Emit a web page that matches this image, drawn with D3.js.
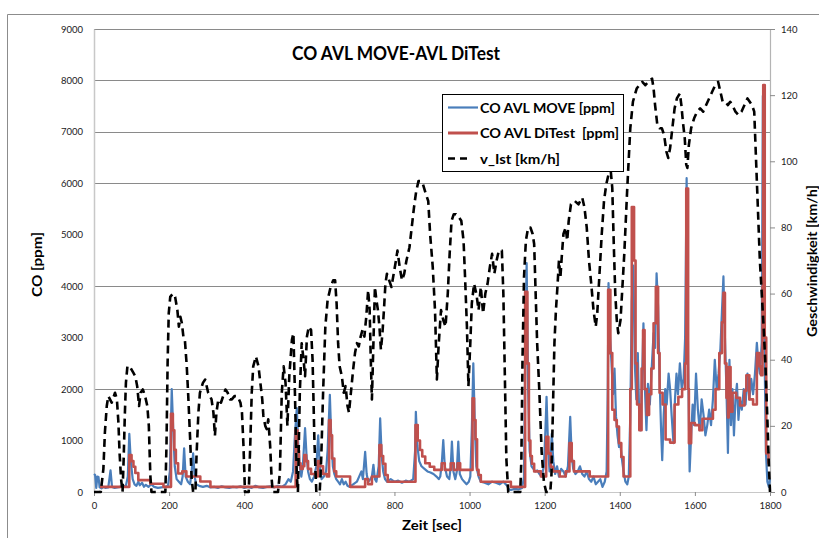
<!DOCTYPE html>
<html>
<head>
<meta charset="utf-8">
<script src="https://cdn.jsdelivr.net/npm/d3@7/dist/d3.min.js"></script>
<style>
  html, body { margin: 0; padding: 0; background: #fff; }
  svg { display: block; }
  text { font-family: Lato, "Open Sans", "DejaVu Sans", sans-serif; }
</style>
</head>
<body>
<svg id="chart" width="819" height="538"></svg>
<script>
// Time axis (s), CO axis (ppm) and speed axis (km/h) ticks
const timeTicks = [0, 200, 400, 600, 800, 1000, 1200, 1400, 1600, 1800];
const coTicks = [0, 1000, 2000, 3000, 4000, 5000, 6000, 7000, 8000, 9000];
const coGrid = [2000, 4000, 6000, 7000, 8000, 9000];
const speedTicks = [0, 20, 40, 60, 80, 100, 120, 140];

// CO AVL MOVE [ppm] : [time s, ppm]
const coMove = [
  [0,350],[3,330],[6,80],[9,300],[12,290],[15,90],[20,70],[25,100],[30,80],[38,90],[44,420],[48,100],
  [55,80],[62,90],[70,100],[78,110],[85,120],[90,300],[94,1130],[98,600],[103,250],[108,150],[113,120],
  [118,200],[122,130],[128,180],[133,100],[138,140],[145,100],[152,150],[160,100],[170,80],[180,90],
  [190,100],[197,120],[202,400],[207,2000],[211,1200],[215,500],[220,250],[226,200],[232,150],[236,300],
  [240,850],[244,300],[250,200],[256,150],[260,400],[264,750],[268,300],[272,150],[280,120],[290,100],
  [300,120],[310,90],[320,100],[330,80],[340,110],[350,90],[360,80],[370,100],[380,90],[390,110],
  [400,80],[410,100],[420,80],[430,120],[440,90],[450,80],[460,100],[470,110],[480,90],[490,120],
  [500,100],[510,150],[518,250],[524,200],[530,400],[535,1100],[540,1630],[544,900],[548,500],[552,300],
  [556,500],[562,1240],[566,700],[570,400],[575,250],[580,200],[586,300],[592,500],[597,1100],[601,500],
  [606,250],[612,300],[618,400],[622,800],[628,1890],[632,1000],[636,500],[640,350],[645,250],[650,200],
  [655,150],[660,250],[665,150],[670,200],[675,120],[680,100],[690,150],[700,200],[706,300],[712,400],
  [716,250],[722,780],[726,350],[730,200],[736,250],[740,300],[744,530],[748,250],[752,200],[758,500],
  [762,1430],[766,700],[770,400],[775,250],[780,200],[790,250],[800,200],[810,220],[820,180],[830,220],
  [840,200],[850,250],[855,800],[857,1560],[861,900],[866,600],[872,500],[880,450],[888,400],[896,380],
  [904,350],[912,300],[918,250],[922,300],[926,550],[930,1010],[934,500],[940,300],[946,250],[950,500],
  [953,980],[957,400],[962,250],[966,400],[970,980],[974,350],[980,250],[986,200],[992,150],[998,200],
  [1002,300],[1006,1200],[1010,2500],[1014,1300],[1018,500],[1024,300],[1030,200],[1040,180],[1050,150],
  [1060,200],[1070,180],[1080,150],[1090,200],[1100,120],[1105,50],[1110,40],[1120,60],[1130,50],
  [1140,80],[1145,300],[1148,2500],[1152,4450],[1156,2000],[1160,800],[1165,500],[1170,450],[1175,400],
  [1180,420],[1186,350],[1192,300],[1198,500],[1202,1200],[1205,1850],[1209,900],[1213,400],[1216,700],
  [1219,1130],[1223,600],[1228,350],[1233,500],[1238,300],[1244,450],[1250,400],[1256,300],[1262,500],
  [1268,1460],[1272,700],[1276,450],[1282,350],[1288,400],[1294,500],[1300,350],[1306,300],[1312,400],
  [1318,250],[1324,200],[1330,300],[1336,150],[1342,200],[1348,250],[1354,100],[1360,200],[1365,400],
  [1368,2000],[1370,4060],[1374,3000],[1378,2500],[1382,1900],[1386,2400],[1390,1460],[1394,1100],
  [1398,875],[1402,900],[1406,620],[1410,400],[1415,200],[1420,150],[1424,300],[1428,1500],[1432,3700],
  [1436,4400],[1440,2500],[1444,1800],[1448,2700],[1452,1400],[1456,1200],[1460,2400],[1463,3280],
  [1467,2000],[1471,1200],[1475,2100],[1480,1700],[1485,2400],[1490,3090],[1494,2800],[1498,4250],
  [1502,3600],[1506,2200],[1510,1200],[1513,620],[1517,1500],[1521,2000],[1525,1700],[1530,2300],
  [1534,2000],[1538,1500],[1543,950],[1547,1800],[1551,2300],[1555,1900],[1560,2500],[1565,2000],
  [1570,2200],[1574,3000],[1578,6100],[1582,2500],[1586,400],[1590,1100],[1594,1700],[1598,1300],
  [1603,2300],[1608,1600],[1613,1200],[1618,1800],[1623,1500],[1628,1100],[1633,1300],[1638,1600],
  [1643,1300],[1648,1800],[1653,2570],[1658,2000],[1663,2300],[1668,2800],[1672,3500],[1676,4190],
  [1680,3000],[1684,2000],[1688,760],[1692,2570],[1696,1300],[1700,2000],[1704,1100],[1708,1800],
  [1712,2100],[1716,1400],[1720,1800],[1725,1600],[1730,2000],[1735,1700],[1740,2300],[1745,1800],
  [1750,2200],[1755,1900],[1760,2300],[1765,2900],[1769,2500],[1773,2300],[1778,2900],[1781,7700],
  [1785,3000],[1789,800],[1793,200],[1797,100],[1800,250]
];

// CO AVL DiTest [ppm] : [time s, ppm], held until the next reading
const coDiTest = [
  [16,100],[94,720],[100,600],[105,490],[110,370],[118,230],[150,160],[185,100],[205,1520],[210,1200],
  [214,820],[218,560],[224,360],[235,400],[246,300],[283,205],[310,100],[537,1200],[542,800],[546,560],
  [550,450],[556,500],[560,720],[565,600],[570,450],[578,350],[590,300],[596,600],[602,500],[610,350],
  [620,300],[626,1400],[630,1100],[634,650],[640,400],[645,300],[682,100],[722,250],[730,150],[740,300],
  [760,913],[765,700],[770,550],[776,330],[782,200],[856,1300],[862,1000],[868,816],[874,690],[882,560],
  [894,490],[906,430],[926,560],[934,430],[950,560],[958,430],[968,560],[975,430],[1008,1820],[1012,1400],
  [1016,1025],[1020,430],[1024,330],[1030,200],[1110,100],[1148,3890],[1154,2500],[1158,1000],[1162,700],
  [1166,550],[1172,400],[1190,300],[1204,1075],[1210,750],[1216,490],[1222,400],[1240,300],[1256,400],
  [1266,950],[1272,600],[1278,400],[1320,300],[1369,3930],[1375,2700],[1380,1600],[1386,1400],[1392,1270],
  [1398,950],[1404,680],[1410,300],[1428,2000],[1432,5540],[1438,4500],[1442,2500],[1446,1700],[1452,1200],
  [1458,2400],[1462,3150],[1466,2000],[1472,1500],[1478,1900],[1484,2400],[1490,3280],[1496,3990],
  [1502,2700],[1506,1930],[1514,1700],[1522,1020],[1534,960],[1546,1700],[1556,1850],[1566,2000],
  [1574,2500],[1577,5900],[1582,2000],[1584,950],[1590,1340],[1600,1300],[1612,1200],[1620,1425],
  [1648,1600],[1655,2000],[1665,2700],[1672,3300],[1676,3870],[1680,2500],[1684,1830],[1688,1450],
  [1690,2430],[1695,1560],[1700,1930],[1710,1830],[1720,1680],[1732,1970],[1737,2270],[1745,1800],
  [1755,1700],[1765,2700],[1772,2440],[1776,2270],[1780,4000],[1782,7910],[1786,3000],[1790,750],
  [1796,560],[1800,560]
];

// v_Ist [km/h] : [time s, km/h]
const speed = [
  [0,0],[18,0],[25,7],[29,18],[34,26],[38,29],[47,27],[56,30],[61,28],[65,21],[68,12],[72,4],[76,0],
  [79,10],[82,23],[85,33],[89,38],[95,38],[100,37],[105,36],[110,35],[115,32],[120,26],[124,30],
  [130,31],[136,29],[142,26],[146,20],[150,5],[153,0],[190,0],[193,14],[196,39],[199,54],[203,59],
  [210,60],[216,59],[222,55],[226,50],[230,53],[234,51],[238,47],[242,46],[247,38],[251,29],[256,16],
  [260,4],[264,0],[270,0],[273,11],[278,24],[282,30],[290,33],[296,34],[304,30],[313,28],[318,24],
  [322,17],[326,24],[331,28],[338,27],[344,29],[350,31],[356,30],[362,28],[367,28],[374,29],[380,29],
  [386,28],[390,27],[394,24],[398,14],[402,0],[412,0],[416,14],[420,30],[424,38],[431,41],[438,38],
  [444,32],[448,28],[451,23],[456,20],[460,19],[464,22],[469,14],[473,4],[476,0],[490,0],[495,6],
  [500,30],[505,38],[510,33],[515,20],[520,35],[527,46],[531,48],[535,30],[540,5],[543,0],[548,30],
  [553,45],[558,40],[562,35],[567,47],[572,50],[578,49],[582,40],[587,15],[592,0],[601,0],[605,10],
  [610,30],[616,50],[622,58],[630,62],[637,64],[642,64],[646,57],[650,45],[654,38],[660,35],[665,30],
  [670,32],[675,26],[679,24],[684,30],[690,37],[695,42],[700,45],[705,44],[710,47],[715,49],[720,47],
  [725,53],[730,61],[734,55],[737,40],[740,28],[744,45],[748,62],[752,58],[756,55],[760,50],[764,43],
  [768,48],[772,55],[776,63],[780,66],[786,64],[792,62],[798,66],[804,70],[808,73],[814,68],[820,64],
  [826,66],[832,70],[840,74],[846,80],[852,86],[858,91],[864,94],[870,94],[876,93],[884,90],[890,88],
  [895,78],[902,68],[908,55],[913,34],[918,45],[924,55],[930,52],[936,50],[942,60],[947,72],[952,82],
  [958,84],[964,84],[972,83],[978,82],[984,76],[988,65],[993,50],[997,32],[1002,45],[1006,57],
  [1012,63],[1018,60],[1024,55],[1030,62],[1036,54],[1042,60],[1048,63],[1054,68],[1060,72],[1066,66],
  [1072,70],[1078,73],[1086,73],[1090,60],[1094,35],[1098,10],[1103,0],[1135,0],[1138,10],[1141,40],
  [1145,65],[1150,76],[1156,80],[1162,80],[1168,78],[1172,75],[1176,60],[1180,45],[1186,30],[1192,12],
  [1198,3],[1204,0],[1215,0],[1218,5],[1222,25],[1226,45],[1230,55],[1234,62],[1238,70],[1242,65],
  [1246,72],[1250,78],[1256,80],[1260,76],[1264,82],[1270,87],[1280,88],[1290,87],[1300,89],[1306,86],
  [1312,80],[1318,70],[1324,63],[1330,55],[1336,50],[1340,54],[1346,66],[1352,78],[1358,88],[1364,93],
  [1370,96],[1376,97],[1380,92],[1384,75],[1388,60],[1392,52],[1396,48],[1402,52],[1406,60],[1412,72],
  [1420,92],[1428,110],[1435,118],[1445,122],[1452,123],[1460,124],[1468,123],[1476,124],[1486,125],
  [1490,122],[1494,117],[1500,111],[1506,110],[1512,110],[1518,108],[1524,103],[1529,101],[1534,104],
  [1540,110],[1546,116],[1552,119],[1560,120.5],[1564,117],[1568,112],[1573,107],[1577,99],[1580,98],
  [1584,105],[1590,110],[1598,113],[1606,115],[1614,116],[1622,115],[1630,117],[1638,119],[1646,121],
  [1654,123],[1662,124],[1668,121],[1674,118],[1680,118],[1688,117],[1694,118],[1700,117],[1708,115],
  [1716,114],[1724,115],[1732,117],[1740,119],[1746,118],[1752,117],[1758,115],[1763,100],[1768,85],
  [1773,70],[1778,60],[1783,50],[1788,38],[1793,22],[1797,8],[1800,0]
];

const svg = d3.select("#chart");

// plot frame
const plot = { left: 94, right: 770, top: 29, bottom: 492 };
const x = d3.scaleLinear().domain([0, 1800]).range([plot.left, plot.right]);
const yCO = d3.scaleLinear().domain([0, 9000]).range([plot.bottom, plot.top]);
const yV = d3.scaleLinear().domain([0, 140]).range([plot.bottom, plot.top]);

// outer chart border
svg.append("path")
  .attr("d", "M7.5,538 L7.5,14.5 L819,14.5")
  .attr("fill", "none").attr("stroke", "#8c8c8c").attr("stroke-width", 1);

// horizontal gridlines
svg.append("g").selectAll("line").data(coGrid).join("line")
  .attr("x1", plot.left).attr("x2", plot.right)
  .attr("y1", d => Math.round(yCO(d)) + 0.5).attr("y2", d => Math.round(yCO(d)) + 0.5)
  .attr("stroke", "#8a8a8a").attr("stroke-width", 1);

// left axis (CO)
const axL = svg.append("g").attr("transform", `translate(${plot.left},0)`)
  .call(d3.axisLeft(yCO).tickValues(coTicks).tickSize(0).tickPadding(11).tickFormat(d3.format("d")));
axL.select(".domain").attr("stroke", "#c8c8c8").attr("stroke-width", 1.5);

// right axis (speed)
const axR = svg.append("g").attr("transform", `translate(${plot.right},0)`)
  .call(d3.axisRight(yV).tickValues(speedTicks).tickSize(5).tickPadding(6).tickFormat(d3.format("d")));
axR.select(".domain").attr("stroke", "#b4b4b4").attr("stroke-width", 1.2);
axR.selectAll(".tick line").attr("stroke", "#8a8a8a");

// bottom axis (time)
const axB = svg.append("g").attr("transform", `translate(0,${plot.bottom})`)
  .call(d3.axisBottom(x).tickValues(timeTicks).tickSize(4).tickPadding(6).tickFormat(d3.format("d")));
axB.select(".domain").attr("stroke", "#c8c8c8").attr("stroke-width", 1);
axB.selectAll(".tick line").attr("stroke", "#8a8a8a");

svg.selectAll(".tick text")
  .attr("font-family", "'DejaVu Sans', sans-serif")
  .attr("font-size", 9.5).attr("fill", "#1a1a1a");

// series
const lineCO = d3.line().x(d => x(d[0])).y(d => yCO(d[1]));
const lineCOstep = d3.line().x(d => x(d[0])).y(d => yCO(d[1])).curve(d3.curveStepAfter);
const lineV = d3.line().x(d => x(d[0])).y(d => yV(d[1]));

svg.append("path").datum(coMove)
  .attr("d", lineCO).attr("fill", "none")
  .attr("stroke", "#4a7ebb").attr("stroke-width", 2.2).attr("stroke-linejoin", "round");

svg.append("path").datum(coDiTest)
  .attr("d", lineCOstep).attr("fill", "none")
  .attr("stroke", "#c0504d").attr("stroke-width", 2.6).attr("stroke-linejoin", "round");

svg.append("path").datum(speed)
  .attr("d", lineV).attr("fill", "none")
  .attr("stroke", "#000").attr("stroke-width", 2.6)
  .attr("stroke-dasharray", "8,5").attr("stroke-linejoin", "round");

// title
svg.append("text").attr("x", 292).attr("y", 60)
  .attr("font-size", 18.5).attr("font-weight", "bold").attr("fill", "#000")
  .attr("textLength", 208).attr("lengthAdjust", "spacingAndGlyphs")
  .text("CO AVL MOVE-AVL DiTest");

// axis titles
svg.append("text").attr("transform", "translate(42,297) rotate(-90)")
  .attr("font-size", 13.5).attr("font-weight", "bold")
  .attr("textLength", 65).attr("lengthAdjust", "spacingAndGlyphs")
  .text("CO [ppm]");
svg.append("text").attr("transform", "translate(817,337) rotate(-90)")
  .attr("font-size", 13.5).attr("font-weight", "bold")
  .attr("textLength", 152).attr("lengthAdjust", "spacingAndGlyphs")
  .text("Geschwindigkeit [km/h]");
svg.append("text").attr("x", 402).attr("y", 530)
  .attr("font-size", 13.5).attr("font-weight", "bold")
  .attr("textLength", 60).attr("lengthAdjust", "spacingAndGlyphs")
  .text("Zeit [sec]");

// legend
const legendItems = [
  { label: "CO AVL MOVE [ppm]", color: "#4a7ebb", width: 2.2, dash: null, end: 478, w: 135 },
  { label: "CO AVL DiTest  [ppm]", color: "#c0504d", width: 3, dash: null, end: 478, w: 139 },
  { label: "v_Ist [km/h]", color: "#000", width: 2.6, dash: "7,5", end: 467, w: 80 }
];
const lg = svg.append("g");
lg.append("rect").attr("x", 442.5).attr("y", 94.5).attr("width", 181).attr("height", 77)
  .attr("fill", "#fff").attr("stroke", "#000").attr("stroke-width", 1);
legendItems.forEach((it, i) => {
  const cy = 107.5 + i * 25.5;
  lg.append("line").attr("x1", 448).attr("x2", it.end).attr("y1", cy).attr("y2", cy)
    .attr("stroke", it.color).attr("stroke-width", it.width)
    .attr("stroke-dasharray", it.dash);
  lg.append("text").attr("x", 480).attr("y", cy + 5)
    .attr("font-size", 14).attr("font-weight", "bold")
    .attr("textLength", it.w).attr("lengthAdjust", "spacingAndGlyphs")
    .attr("xml:space", "preserve")
    .text(it.label);
});
</script>
</body>
</html>
